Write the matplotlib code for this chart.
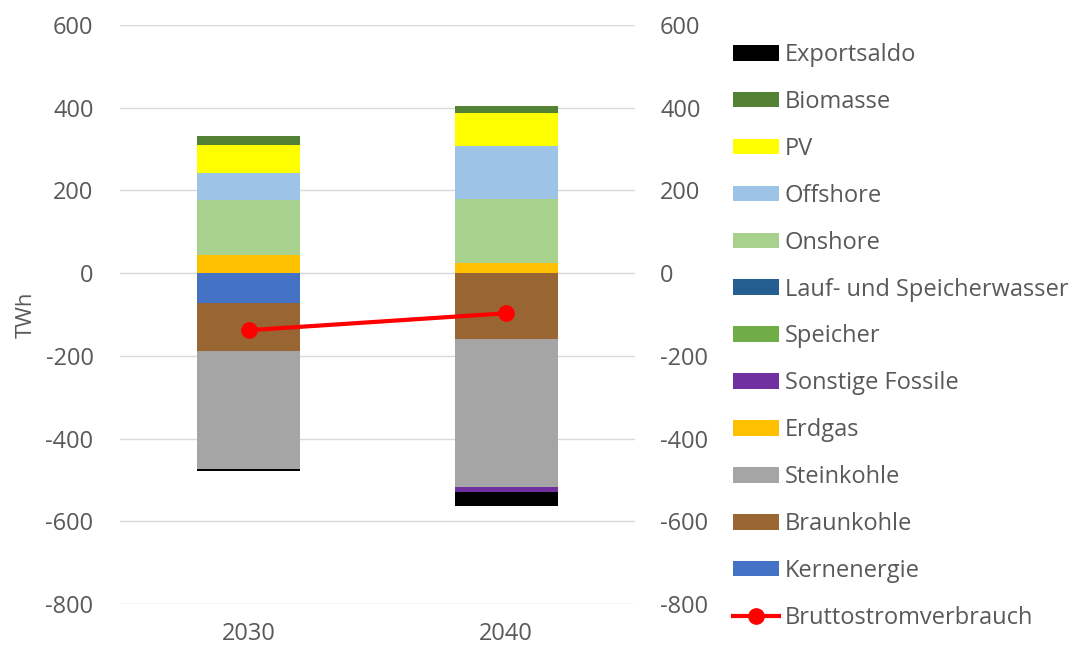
import numpy as np
import matplotlib.pyplot as plt
from matplotlib.patches import Patch
from matplotlib.lines import Line2D

plt.rcParams['font.family'] = ['Open Sans', 'DejaVu Sans']
plt.rcParams['axes.unicode_minus'] = False

# data (TWh)
years = ['2030', '2040']
series_names = ['Kernenergie', 'Braunkohle', 'Steinkohle', 'Erdgas', 'Sonstige Fossile',
                'Speicher', 'Lauf- und Speicherwasser', 'Onshore', 'Offshore', 'PV',
                'Biomasse', 'Exportsaldo']
kernenergie = [-71, 0]
braunkohle = [-118, -160]
steinkohle = [-284, -357]
erdgas = [43, 25]
sonstige_fossile = [0, -13]
speicher = [0, 0]
laufwasser = [0, 0]
onshore = [134, 154]
offshore = [65, 129]
pv = [68, 80]
biomasse = [22, 17]
exportsaldo = [-5, -32]
bruttostromverbrauch = [-138, -97]

colors = ['#4472C4', '#996633', '#A5A5A5', '#FFC000', '#7030A0', '#70AD47',
          '#255E91', '#A9D18E', '#9DC3E6', '#FFFF00', '#548235', '#000000']
values = [kernenergie, braunkohle, steinkohle, erdgas, sonstige_fossile, speicher,
          laufwasser, onshore, offshore, pv, biomasse, exportsaldo]

fig = plt.figure(figsize=(10.74, 6.51), dpi=100)
ax = fig.add_axes([120/1074, 47/651, 515/1074, 579/651])

# stack positives upward and negatives downward, like excel does
x = np.arange(len(years))
pos_base = np.zeros(len(years))
neg_base = np.zeros(len(years))
for name, vals, c in zip(series_names, values, colors):
    v = np.array(vals, dtype=float)
    base = np.where(v >= 0, pos_base, neg_base)
    ax.bar(x, v, 0.4, bottom=base, color=c, zorder=2)
    pos_base += np.where(v >= 0, v, 0)
    neg_base += np.where(v < 0, v, 0)

ax.plot(x, bruttostromverbrauch, color='#FF0000', lw=3, marker='o', ms=11, zorder=3)

ax.set_xlim(-0.5, 1.5)
ax.set_ylim(-800, 600)
ax.set_yticks(range(-800, 601, 200))
ax.set_xticks(x)
ax.set_xticklabels(years)
ax.grid(axis='y', color='#D9D9D9', lw=1, zorder=0)
for s in ax.spines.values():
    s.set_visible(False)
ax.tick_params(length=0, labelsize=17, labelcolor='#595959')
ax.tick_params(axis='x', pad=13)
ax.tick_params(axis='y', pad=19)
ax.set_ylabel('TWh', fontsize=16, color='#595959', labelpad=6)

# secondary axis only repeats the tick labels
ax2 = ax.twinx()
ax2.set_ylim(-800, 600)
ax2.set_yticks(range(-800, 601, 200))
for s in ax2.spines.values():
    s.set_visible(False)
ax2.tick_params(length=0, labelsize=17, labelcolor='#595959', pad=18)

handles = [Patch(facecolor=c) for c in colors[::-1]]
labels = series_names[::-1]
handles.append(Line2D([], [], color='#FF0000', lw=3, marker='o', ms=11))
labels.append('Bruttostromverbrauch')
fig.legend(handles, labels, loc='upper left', bbox_to_anchor=(733/1074, 1 - 43/651),
           frameon=False, fontsize=17, labelcolor='#595959', handlelength=1.95,
           handleheight=0.64, handletextpad=0.25, labelspacing=0.97, borderpad=0,
           borderaxespad=0)

fig.savefig('out.png', dpi=100)
